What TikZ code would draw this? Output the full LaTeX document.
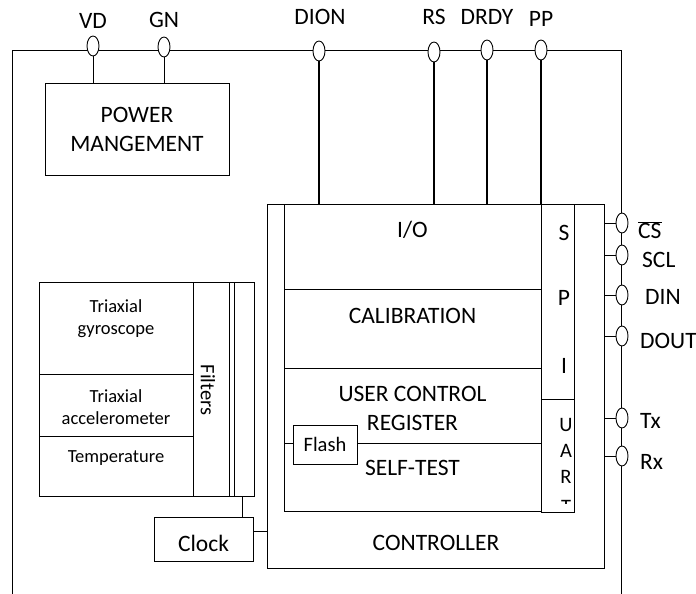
\documentclass[tikz,border=0pt]{standalone}
\usepackage{fontspec}
\setmainfont{Carlito}
\usetikzlibrary{positioning,shapes.geometric,calc}
\newcommand{\bigfs}{\fontsize{23.5}{29}\selectfont}
\newcommand{\midfs}{\fontsize{20.5}{24}\selectfont}
\newcommand{\smallfs}{\fontsize{18.5}{22}\selectfont}

\begin{document}
\begin{tikzpicture}[x=1pt, y=-1pt,
  box/.style={draw, line width=0.9pt, inner sep=0pt, outer sep=0pt, anchor=north west},
  port/.style={draw, ellipse, fill=white, line width=0.9pt, minimum width=12pt, minimum height=20pt, inner sep=0pt},
  lab/.style={font=\bigfs, inner sep=0pt, align=center},
  sens/.style={font=\smallfs, inner sep=0pt, align=center},
  wire/.style={line width=0.9pt},
  bus/.style={line width=1.8pt}
]
\useasboundingbox (0,0) rectangle (696,594);

% Outer frame
\draw[wire] (12,594) -- (12,50) -- (621,50) -- (621,594);

% Top pins
\foreach \nm/\xx/\yy in {vd/93/46, gn/164/47, dion/319/51, rs/434/52, drdy/487/50, pp/541/50}
  \node[port] (\nm) at (\xx,\yy) {};
\node[lab] (vdlab) at (93,21) {VD};
\node[lab] (gnlab) at (164,20) {GN};
\node[lab] (dionlab) at (320,17) {DION};
\node[lab] (rslab) at (434,17) {RS};
\node[lab] (drdylab) at (487,17) {DRDY};
\node[lab] (pplab) at (541,19) {PP};

% Power
\node[box, lab, anchor=north west, minimum width=184pt, minimum height=92pt] (power) at (45,83) {POWER\\MANGEMENT};
\draw[wire] (vd.south) -- (vd.south |- power.north);
\draw[wire] (gn.south) -- (gn.south |- power.north);

% Controller
\node[box, minimum width=337pt, minimum height=364pt] (ctrl) at (267,204) {};
\node[lab] (ctrllab) at (436,543) {CONTROLLER};

\node[box, minimum width=257pt, minimum height=85pt] (io) at (284,204) {};
\node[box, minimum width=257pt, minimum height=79pt, below=0pt of io] (calib) {};
\node[box, minimum width=257pt, minimum height=75pt, below=0pt of calib] (ucr) {};
\node[box, minimum width=257pt, minimum height=68pt, below=0pt of ucr] (selftest) {};
\node[lab] (iolab) at ($(io.north)+(0,26)$) {I/O};
\node[lab] (caliblab) at ($(calib.north)+(0,27)$) {CALIBRATION};
\node[lab] (ucrlab) at ($(ucr.north)+(0,40)$) {USER CONTROL\\REGISTER};
\node[lab] (stlab) at ($(selftest.north)+(0,25)$) {SELF-TEST};
\node[box, anchor=center, fill=white, font=\midfs, minimum width=64pt, minimum height=39pt] (flash) at (325,444.5) {Flash};

\node[box, minimum width=33pt, minimum height=195pt] (spi) at (541,204) {};
\node[box, minimum width=33pt, minimum height=113pt, below=0pt of spi] (uart) {};
\foreach \ch/\yy in {S/233, P/298, I/366}
  \node[lab] (spi\ch) at (564,\yy) {\ch};
\begin{scope}
  \clip (uart.north west) rectangle ([yshift=9pt]uart.south east);
  \foreach \ch/\yy in {U/425, A/451, R/477, T/507}
    \node[lab, font=\midfs] (uart\ch) at (566,\yy) {\ch};
\end{scope}

\foreach \nm in {dion, rs, drdy, pp}
  \draw[bus] (\nm.south) -- (\nm.south |- ctrl.north);

% Right pins
\foreach \nm/\yy in {cs/223, scl/255, din/295, dout/336, tx/418, rx/456}
{
  \node[port] (\nm) at (622,\yy) {};
  \draw[wire] (\nm.west -| ctrl.east) -- (\nm.west);
}
\node[lab, anchor=west] (cslab) at (638,230) {$\overline{\mbox{CS}}$};
\node[lab, anchor=west] (scllab) at (642,260) {SCL};
\node[lab, anchor=west] (dinlab) at (645,297) {DIN};
\node[lab, anchor=west] (doutlab) at (640,341) {DOUT};
\node[lab, anchor=west] (txlab) at (640,421) {Tx};
\node[lab, anchor=west] (rxlab) at (640,462) {Rx};

% Sensors
\node[box, minimum width=154pt, minimum height=92pt] (gyro) at (39,282) {};
\node[box, minimum width=154pt, minimum height=62pt, below=0pt of gyro] (accel) {};
\node[box, minimum width=154pt, minimum height=60pt, below=0pt of accel] (temp) {};
\node[box, minimum width=36pt, minimum height=214pt] (filt) at (gyro.north east) {};
\node[box, minimum width=5pt, minimum height=214pt] (bus) at (filt.north east) {};
\node[box, minimum width=20pt, minimum height=214pt] (clkcol) at (bus.north east) {};
\node[sens] (gyrolab) at ($(gyro.north)+(0,37)$) {Triaxial\\gyroscope};
\node[sens] (accellab) at ($(accel.north)+(0,33)$) {Triaxial\\accelerometer};
\node[sens] (templab) at ($(temp.north)+(0,22)$) {Temperature};
\node[lab, font=\midfs, rotate=-90] (filtlab) at (208,390) {Filters};

% Clock
\node[box, minimum width=99pt, minimum height=44pt] (clock) at (154,517) {};
\node[lab] (clocklab) at ($(clock.center)+(0,4)$) {Clock};
\draw[wire] ([xshift=38.5pt]clock.north) -- ([xshift=38.5pt]clock.north |- temp.south);
\draw[wire] ([yshift=8pt]clock.east) -- ([yshift=8pt]clock.east -| ctrl.west);
\end{tikzpicture}
\end{document}
